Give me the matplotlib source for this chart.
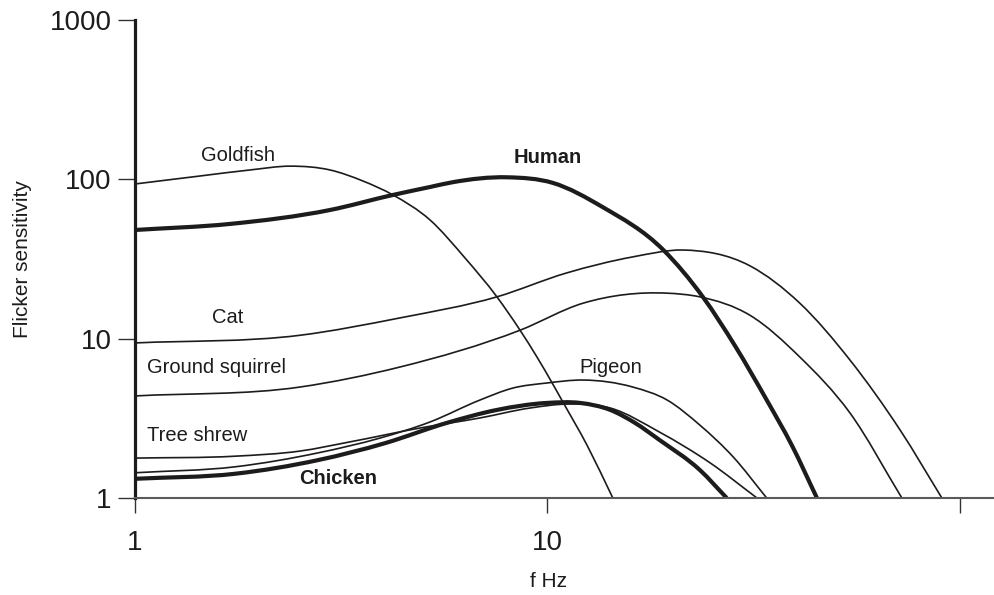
"""Flicker sensitivity curves for several species (log-log)."""
import matplotlib
matplotlib.use("Agg")
import matplotlib.pyplot as plt
import numpy as np
from matplotlib.path import Path
from matplotlib.patches import PathPatch

plt.rcParams["font.family"] = ["Liberation Sans", "DejaVu Sans"]

INK = "#1e1b1c"

goldfish_f = [1, 1.44, 1.9, 2.38, 2.97, 3.57, 4.22, 5.19, 6.31, 7.54, 8.58, 9.43, 10.3, 10.9, 12.5, 14.4]
goldfish_s = [93.5, 105, 114.5, 121, 114.5, 97.6, 79.8, 55.6, 32.1, 18.3, 11.3, 7.67, 5.19, 4.0, 2.12, 1.0]

human_f = [1, 1.7, 2.97, 4.22, 5.19, 5.9, 7.98, 10.3, 13.6, 19.1, 23.8, 28.5, 34.0, 39.2, 45.0]
human_s = [48.1, 52.5, 64.2, 79.8, 89.5, 96, 103, 95, 67, 36, 18.3, 9.0, 4.12, 2.12, 1.0]

cat_f = [1, 2.51, 4.39, 7.54, 11.1, 16.1, 21.3, 31.0, 40.9, 54.1, 71.6, 90.4]
cat_s = [9.4, 10.5, 13.5, 18.3, 25.8, 32.6, 36.0, 28.6, 16.7, 7.35, 2.67, 1.0]

squirrel_f = [1, 2.51, 4.39, 8.58, 12.2, 19.5, 23.4, 31.0, 40.9, 54.1, 72.3]
squirrel_s = [4.37, 4.97, 6.64, 11.3, 16.7, 19.3, 18.3, 14.0, 7.67, 3.42, 1.0]

pigeon_f = [1, 1.75, 2.78, 3.93, 5.19, 6.86, 8.25, 9.97, 12.2, 16.1, 19.5, 23.4, 28.2, 34.0]
pigeon_s = [1.44, 1.57, 1.92, 2.38, 3.0, 4.12, 4.9, 5.27, 5.5, 4.97, 4.12, 2.87, 1.81, 1.0]

shrew_f = [1, 1.75, 2.51, 3.32, 4.91, 6.86, 9.07, 11.3, 14.2, 18.7, 24.8, 32.2]
shrew_s = [1.78, 1.83, 1.97, 2.25, 2.75, 3.18, 3.67, 3.89, 3.67, 2.59, 1.66, 1.0]

chicken_f = [1, 1.75, 2.78, 4.04, 5.7, 7.54, 9.97, 12.0, 14.2, 16.3, 18.7, 23.4, 27.2]
chicken_s = [1.32, 1.42, 1.73, 2.21, 2.96, 3.57, 3.95, 3.95, 3.57, 2.96, 2.31, 1.50, 1.0]


def smooth_path(f, s):
    # cubic Hermite through the read points in log-log space, as Bezier segments
    x = np.log10(f)
    y = np.log10(s)
    m = np.gradient(y, x)
    verts = [(x[0], y[0])]
    for i in range(len(x) - 1):
        h = (x[i + 1] - x[i]) / 3
        verts += [(x[i] + h, y[i] + m[i] * h),
                  (x[i + 1] - h, y[i + 1] - m[i + 1] * h),
                  (x[i + 1], y[i + 1])]
    verts = 10 ** np.array(verts)
    codes = [Path.MOVETO] + [Path.CURVE4] * (len(verts) - 1)
    return Path(verts, codes)


def draw(ax, f, s, lw):
    ax.add_patch(PathPatch(smooth_path(f, s), fill=False, edgecolor=INK,
                           lw=lw, capstyle="butt", joinstyle="round"))


fig = plt.figure(figsize=(9.95, 5.95), dpi=100)
ax = fig.add_axes([135 / 995, (595 - 498) / 595, 860 / 995, 478 / 595])
ax.set_xscale("log")
ax.set_yscale("log")
ax.set_xlim(1, 121.6)
ax.set_ylim(1, 1000)

for f, s in [(goldfish_f, goldfish_s), (cat_f, cat_s), (squirrel_f, squirrel_s),
             (pigeon_f, pigeon_s), (shrew_f, shrew_s)]:
    draw(ax, f, s, 1.2)
draw(ax, human_f, human_s, 3.0)
draw(ax, chicken_f, chicken_s, 3.0)

lab = dict(fontsize=14.5, color=INK)
ax.text(1.776, 142, "Goldfish", ha="center", va="center", **lab)
ax.text(10, 138, "Human", ha="center", va="center", fontweight="bold", **lab)
ax.text(1.68, 13.5, "Cat", ha="center", va="center", **lab)
ax.text(1.069, 6.64, "Ground squirrel", ha="left", va="center", **lab)
ax.text(14.2, 6.64, "Pigeon", ha="center", va="center", **lab)
ax.text(1.069, 2.45, "Tree shrew", ha="left", va="center", **lab)
ax.text(2.5, 1.32, "Chicken", ha="left", va="center", fontweight="bold", **lab)

ax.spines["top"].set_visible(False)
ax.spines["right"].set_visible(False)
ax.spines["left"].set_linewidth(2.3)
ax.spines["left"].set_color(INK)
ax.spines["bottom"].set_linewidth(1.5)
ax.spines["bottom"].set_color("#5a5a5a")

ax.set_xticks([1, 10, 100])
ax.set_xticklabels(["1", "10", ""])
ax.set_yticks([1, 10, 100, 1000])
ax.set_yticklabels(["1", "10", "100", "1000"])
ax.minorticks_off()
ax.tick_params(axis="y", length=12, width=1.0, color="#333333", pad=5,
               labelsize=20, labelcolor=INK)
ax.tick_params(axis="x", length=11, width=1.0, color="#333333", pad=12,
               labelsize=20, labelcolor=INK)

ax.set_ylabel("Flicker sensitivity", fontsize=15, color=INK)
ax.yaxis.set_label_coords(-0.12, 0.5)
ax.set_xlabel("f Hz", fontsize=15, color=INK)
ax.xaxis.set_label_coords(413 / 860, -0.155)

fig.savefig("out.png", dpi=100)
